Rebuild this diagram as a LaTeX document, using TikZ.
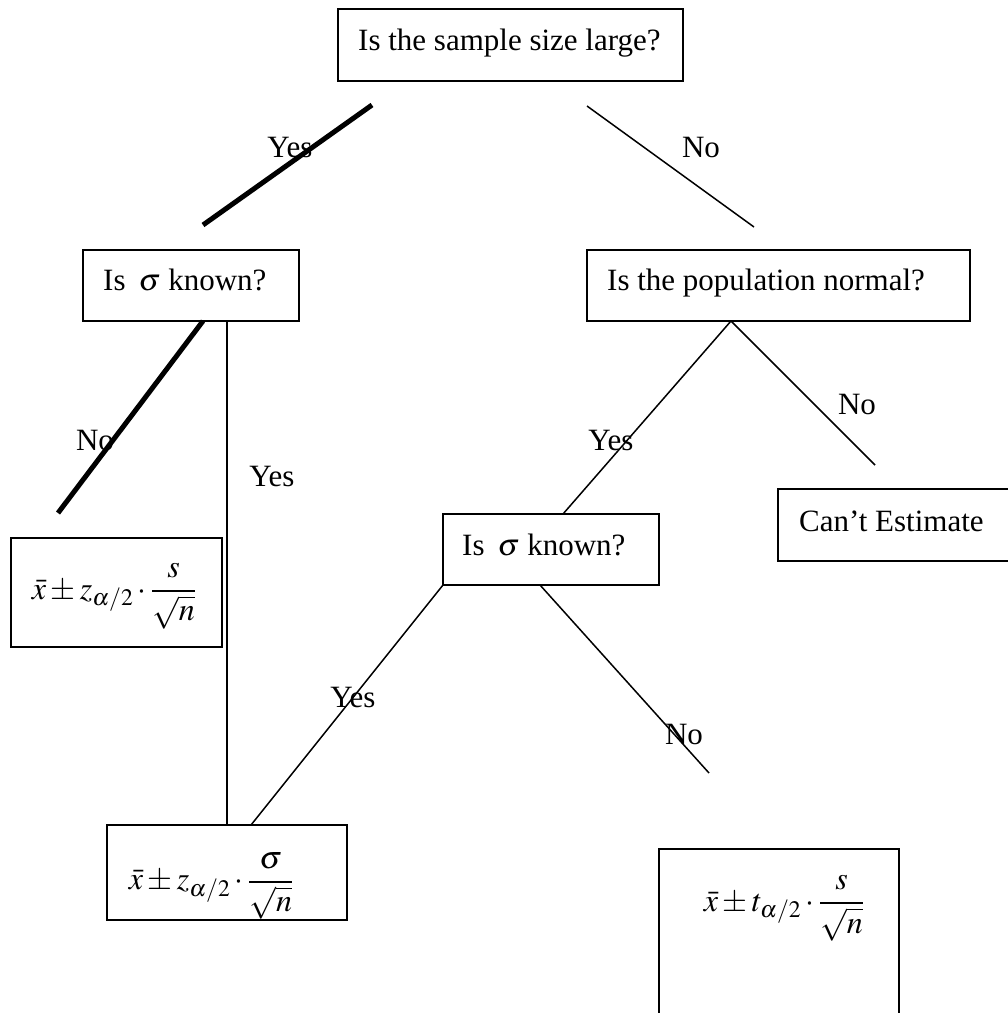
\documentclass[tikz,border=0pt]{standalone}
\usepackage{mathptmx}
\usepackage{fontspec}
\setmainfont{Liberation Serif}
\tikzset{
  box/.style={draw, line width=1.8pt, inner sep=0pt, fill=none},
  txt/.style={inner sep=0pt, anchor=base west, font=\fontsize{31}{36}\selectfont},
  lbl/.style={inner sep=0pt, font=\fontsize{31}{36}\selectfont},
  frm/.style={inner sep=0pt, font=\fontsize{32}{38}\selectfont},
  thin/.style={line width=1.5pt},
  thick/.style={line width=5pt}
}
\begin{document}
\begin{tikzpicture}[x=1pt,y=-1pt]
\useasboundingbox (0,0) rectangle (1008,1013);
\clip (0,0) rectangle (1008,1013);
% boxes
\node[box, minimum width=345pt, minimum height=72pt] (top) at (510.5,45) {};
\node[box, minimum width=216pt, minimum height=71pt] (lsig) at (191,285.5) {};
\node[box, minimum width=383pt, minimum height=71pt] (pop) at (778.5,285.5) {};
\node[box, minimum width=237pt, minimum height=72pt] (cant) at (896.5,525) {};
\node[box, minimum width=216pt, minimum height=71pt] (msig) at (551,549.5) {};
\node[box, minimum width=211pt, minimum height=109pt] (lform) at (116.5,592.5) {};
\node[box, minimum width=240pt, minimum height=95pt] (bform) at (227,872.5) {};
\node[box, minimum width=240pt, minimum height=171pt] (rform) at (779,934.5) {};
% texts
\node[txt] (ttop) at (358,50) {Is the sample size large?};
\node[txt] (tlsig) at (103,290) {Is \,$\sigma$ known?};
\node[txt] (tpop) at (607,290) {Is the population normal?};
\node[txt] (tcant) at (799,531) {Can’t Estimate};
\node[txt] (tmsig) at (462,555) {Is \,$\sigma$ known?};
\node[frm] (flform) at (114,596) {$\displaystyle \bar{x}\pm z_{\alpha/2}\cdot\frac{s}{\sqrt{n}}$};
\node[frm] (fbform) at (211,886) {$\displaystyle \bar{x}\pm z_{\alpha/2}\cdot\frac{\sigma}{\sqrt{n}}$};
\node[frm] (frform) at (784,908) {$\displaystyle \bar{x}\pm t_{\alpha/2}\cdot\frac{s}{\sqrt{n}}$};
% connector end points
\coordinate (a1) at (372,105); \coordinate (a2) at (203,225);
\coordinate (b1) at (587,106); \coordinate (b2) at (754,227);
\coordinate (c1) at (203,321); \coordinate (c2) at (58,513);
\coordinate (d1) at (227,321); \coordinate (d2) at (227,825);
\coordinate (e0) at (731,321); \coordinate (e1) at (563,514); \coordinate (e2) at (875,465);
\coordinate (f1) at (443,585); \coordinate (f2) at (251,825);
\coordinate (g1) at (540,585); \coordinate (g2) at (709,773);
% connectors
\draw[thick] (a1) -- (a2);
\draw[thin] (b1) -- (b2);
\draw[thick] (c1) -- (c2);
\draw[thin] (d1) -- (d2);
\draw[thin] (e0) -- (e1);
\draw[thin] (e0) -- (e2);
\draw[thin] (f1) -- (f2);
\draw[thin] (g1) -- (g2);
% labels
\node[lbl] (l1) at (290,147) {Yes};
\node[lbl] (l2) at (701,147) {No};
\node[lbl] (l3) at (95,440) {No};
\node[lbl] (l4) at (272,476) {Yes};
\node[lbl] (l5) at (611,440) {Yes};
\node[lbl] (l6) at (857,404) {No};
\node[lbl] (l7) at (353,697) {Yes};
\node[lbl] (l8) at (684,734) {No};
\end{tikzpicture}
\end{document}
